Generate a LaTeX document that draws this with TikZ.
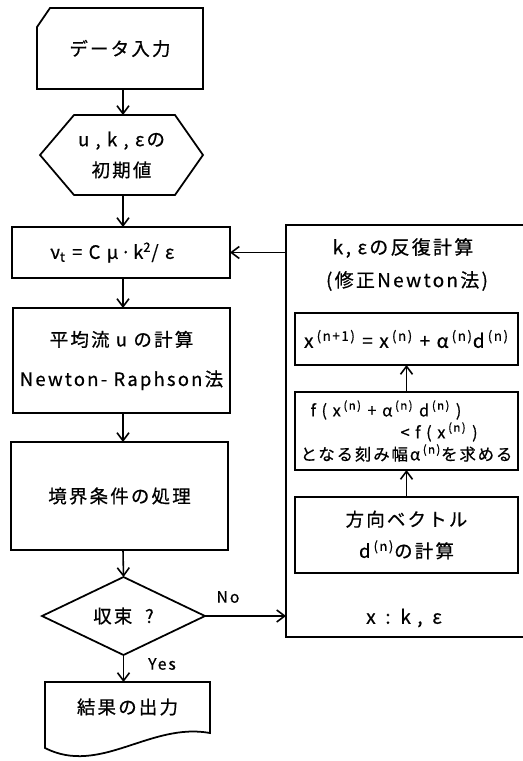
\documentclass[tikz,border=0pt]{standalone}
\usepackage{fontspec}
\setmainfont{Noto Sans CJK JP}
\newfontfamily\jp[LetterSpace=12,FakeBold=0.6]{Noto Sans CJK JP}
\usetikzlibrary{shapes.geometric,arrows.meta,calc}
\newcommand\psup[1]{\,\textsuperscript{(#1)}}
\begin{document}
\begin{tikzpicture}[x=0.02cm,y=-0.02cm,
  line width=1pt,
  every node/.style={inner sep=0pt, outer sep=0pt},
  box/.style={draw, rectangle, align=center, font=\jp\fontsize{10.5}{18}\selectfont},
  ghost/.style={box, draw=none},
  lbl/.style={font=\jp\fontsize{10.8}{18}\selectfont, align=center},
  small/.style={font=\jp\fontsize{9}{11}\selectfont},
  arr/.style={-{Straight Barb[length=1.6mm,width=2.4mm]}, line width=0.9pt}]
\useasboundingbox (0,0) rectangle (523,761);
\clip (0,0) rectangle (523,761);
\coordinate (col) at (123,0);

% left column
\node[ghost, minimum width=3.32cm, minimum height=1.62cm] (in) at (120,48.5) {データ入力};
\draw (in.south west) -- ($(in.north west)+(0,19)$) -- ($(in.north west)+(13,0)$) -- (in.north east) -- (in.south east) -- cycle;

\node[ghost, minimum width=3.26cm, minimum height=1.6cm, font=\jp\fontsize{10.5}{17.5}\selectfont] (hex) at (121.5,155) {u , k , εの\\初期値};
\draw (hex.west) -- ($(hex.north west)+(34,0)$) -- ($(hex.north east)+(-28,0)$) -- (hex.east) -- ($(hex.south east)+(-28,0)$) -- ($(hex.south west)+(34,0)$) -- cycle;

\node[box, minimum width=4.36cm, minimum height=1.02cm] (nu) at (121,252.5) {ν\textsubscript{t} = C μ·k\textsuperscript{2}/ ε\hspace*{0.35cm}};

\node[box, minimum width=4.34cm, minimum height=2.1cm, font=\jp\fontsize{10.5}{22.5}\selectfont] (mean) at (121.5,360.5) {平均流 u の計算\\Newton- Raphson法};

\node[box, minimum width=4.34cm, minimum height=2.16cm] (bc) at (119.5,496) {境界条件の処理};

\node[draw, diamond, minimum width=3.26cm, minimum height=1.56cm, font=\jp\fontsize{10.5}{18}\selectfont] (conv) at (123.5,616) {収束\ \ ?};

\node[ghost, minimum width=3.3cm, minimum height=1.0cm] (out) at (127.5,707) {結果の出力};
\draw (out.north west) -- (out.north east) -- ($(out.north east)+(0,51)$)
  .. controls (150,722) and (100,776) .. ($(out.north west)+(0,66)$) -- cycle;

\node[small] (yes) at (162,664) {Yes};
\node[small] (no) at (228,597) {No};

% right block
\node[draw, minimum width=5.18cm, minimum height=8.24cm] (outer) at (415.5,431) {};
\node[lbl] (t1) at (403,248) {k, εの反復計算};
\node[lbl] (t2) at (407,281) {(修正Newton法)};

\node[box, minimum width=4.46cm, minimum height=1.04cm, font=\jp\fontsize{10.8}{12}\selectfont] (ib1) at (406.5,339) {x\psup{n+1} = x\psup{n} + α\psup{n}d\psup{n}};

\node[box, minimum width=4.46cm, minimum height=1.56cm, align=left, font=\jp\fontsize{9.3}{12.5}\selectfont] (ib2) at (406.5,431)
  {\hspace*{0.2cm}f ( x\psup{n}\ + α\psup{n}\ d\psup{n}\ )\\ \hspace*{2.0cm}<\ f ( x\psup{n}\ )\\ となる刻み幅α\psup{n}を求める};

\node[box, minimum width=4.46cm, minimum height=1.52cm] (ib3) at (406.5,535) {方向ベクトル\\d\psup{n}の計算};

\node[lbl] (xk) at (404,618) {x\ \,:\ \,k ,\ \,ε};

% connectors
\draw[arr] (col |- in.south) -- (col |- hex.north);
\draw[arr] (col |- hex.south) -- (col |- nu.north);
\draw[arr] (col |- nu.south) -- (col |- mean.north);
\draw[arr] (col |- mean.south) -- (col |- bc.north);
\draw[arr] (col |- bc.south) -- (conv.north);
\draw[arr] (conv.south) -- (conv.south |- out.north);
\draw[arr] (conv.east) -- (conv.east -| outer.west);
\draw[arr] (outer.west |- nu.east) -- (nu.east);
\draw[arr] (ib3.north) -- (ib2.south);
\draw[arr] (ib2.north) -- (ib1.south);
\end{tikzpicture}
\end{document}
